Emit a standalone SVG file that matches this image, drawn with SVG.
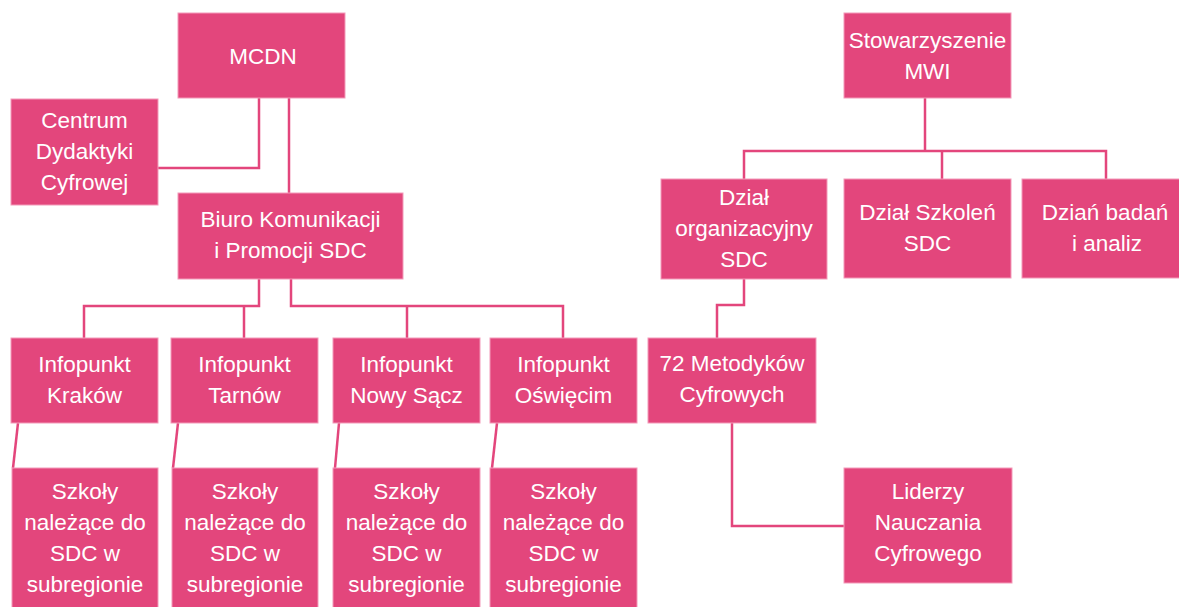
<svg xmlns="http://www.w3.org/2000/svg" width="1179" height="607" viewBox="0 0 1179 607">
<style>
.box{fill:#E3467C;stroke:#F39AB9;stroke-width:1}
.t{font-family:"Liberation Sans",Arial,sans-serif;font-size:22.5px;fill:#FFFFFF;text-anchor:middle}
.c{fill:none;stroke:#E3467C;stroke-width:2.5}
</style>
<rect width="1179" height="607" fill="#FFFFFF"/>
<g id="connectors">
<polyline class="c" points="259,98 259,168 158,168"/>
<polyline class="c" points="289,98 289,193"/>
<polyline class="c" points="259,279 259,306 84,306 84,338"/>
<polyline class="c" points="244,306 244,338"/>
<polyline class="c" points="291,279 291,306 563,306 563,338"/>
<polyline class="c" points="407,306 407,338"/>
<line class="c" x1="18" y1="423" x2="13" y2="468"/>
<line class="c" x1="178" y1="423" x2="173" y2="468"/>
<line class="c" x1="339" y1="423" x2="335" y2="468"/>
<line class="c" x1="497" y1="423" x2="492" y2="468"/>
<polyline class="c" points="925,98 925,151"/>
<polyline class="c" points="744,179 744,151 1106,151 1106,179"/>
<polyline class="c" points="942,151 942,179"/>
<polyline class="c" points="744,279 744,305 717,305 717,338"/>
<polyline class="c" points="732,423 732,526 844,526"/>
</g>
<g id="mcdn"><rect class="box" x="178" y="13" width="167" height="85"/><text class="t" x="263" y="64">MCDN</text></g>
<g id="centrum"><rect class="box" x="11" y="99" width="147" height="106"/><text class="t" x="84.5" y="128">Centrum</text><text class="t" x="84.5" y="159">Dydaktyki</text><text class="t" x="84.5" y="190">Cyfrowej</text></g>
<g id="biuro"><rect class="box" x="178" y="193" width="225" height="86"/><text class="t" x="290.5" y="227">Biuro Komunikacji</text><text class="t" x="290.5" y="258">i Promocji SDC</text></g>
<g id="info-krakow"><rect class="box" x="11" y="338" width="147" height="85"/><text class="t" x="84.5" y="372">Infopunkt</text><text class="t" x="84.5" y="403">Kraków</text></g>
<g id="info-tarnow"><rect class="box" x="171" y="338" width="147" height="85"/><text class="t" x="244.5" y="372">Infopunkt</text><text class="t" x="244.5" y="403">Tarnów</text></g>
<g id="info-nowysacz"><rect class="box" x="333" y="338" width="147" height="85"/><text class="t" x="406.5" y="372">Infopunkt</text><text class="t" x="406.5" y="403">Nowy Sącz</text></g>
<g id="info-oswiecim"><rect class="box" x="490" y="338" width="147" height="85"/><text class="t" x="563.5" y="372">Infopunkt</text><text class="t" x="563.5" y="403">Oświęcim</text></g>
<g id="szkoly-krakow"><rect class="box" x="12" y="468" width="146" height="142"/><text class="t" x="85" y="499">Szkoły</text><text class="t" x="85" y="530">należące do</text><text class="t" x="85" y="561">SDC w</text><text class="t" x="85" y="592">subregionie</text></g>
<g id="szkoly-tarnow"><rect class="box" x="172" y="468" width="146" height="142"/><text class="t" x="245" y="499">Szkoły</text><text class="t" x="245" y="530">należące do</text><text class="t" x="245" y="561">SDC w</text><text class="t" x="245" y="592">subregionie</text></g>
<g id="szkoly-nowysacz"><rect class="box" x="333" y="468" width="147" height="142"/><text class="t" x="406.5" y="499">Szkoły</text><text class="t" x="406.5" y="530">należące do</text><text class="t" x="406.5" y="561">SDC w</text><text class="t" x="406.5" y="592">subregionie</text></g>
<g id="szkoly-oswiecim"><rect class="box" x="490" y="468" width="147" height="142"/><text class="t" x="563.5" y="499">Szkoły</text><text class="t" x="563.5" y="530">należące do</text><text class="t" x="563.5" y="561">SDC w</text><text class="t" x="563.5" y="592">subregionie</text></g>
<g id="mwi"><rect class="box" x="844" y="13" width="167" height="85"/><text class="t" x="927.5" y="48">Stowarzyszenie</text><text class="t" x="927.5" y="79">MWI</text></g>
<g id="dzial-org"><rect class="box" x="661" y="179" width="166" height="100"/><text class="t" x="744" y="205">Dział</text><text class="t" x="744" y="236">organizacyjny</text><text class="t" x="744" y="267">SDC</text></g>
<g id="dzial-szkolen"><rect class="box" x="844" y="179" width="167" height="99"/><text class="t" x="927.5" y="220">Dział Szkoleń</text><text class="t" x="927.5" y="251">SDC</text></g>
<g id="dzial-badan"><rect class="box" x="1022" y="179" width="160" height="99"/><text class="t" x="1105" y="220">Dziań badań</text><text class="t" x="1107" y="251">i analiz</text></g>
<g id="metodycy"><rect class="box" x="648" y="338" width="168" height="85"/><text class="t" x="732" y="371">72 Metodyków</text><text class="t" x="732" y="402">Cyfrowych</text></g>
<g id="liderzy"><rect class="box" x="844" y="468" width="168" height="115"/><text class="t" x="928" y="499">Liderzy</text><text class="t" x="928" y="530">Nauczania</text><text class="t" x="928" y="561">Cyfrowego</text></g>
</svg>
